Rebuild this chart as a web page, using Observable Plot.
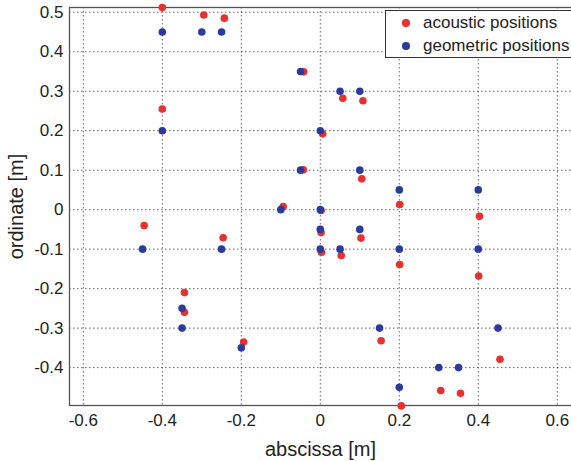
<!DOCTYPE html>
<html>
<head>
<meta charset="utf-8">
<script src="https://cdn.jsdelivr.net/npm/d3@7"></script>
<script src="https://cdn.jsdelivr.net/npm/@observablehq/plot@0.6"></script>
<style>
  body { margin: 0; background: #fff; font-family: "Liberation Sans", Arial, sans-serif; }
  #wrap { position: relative; width: 571px; height: 461px; overflow: hidden; }
  #legend { position: absolute; left: 385px; top: 10px; width: 220px; height: 46px;
            border: 1px solid #333; background: #fff; }
  .item { position: absolute; left: 0; height: 22px; width: 220px; }
  .item .dot { position: absolute; left: 16px; top: 7px; width: 7.5px; height: 7.5px; border-radius: 50%; }
  .item .lab { position: absolute; left: 37px; top: 0; font-size: 17px; line-height: 22px; color: #222; white-space: nowrap; }
  g[aria-label="x-axis label"] text, g[aria-label="y-axis label"] text { font-size: 20px; }
</style>
</head>
<body>
<div id="wrap">
  <div id="chart"></div>
  <div id="legend"></div>
</div>
<script>
// Series names and colours
const seriesNames = ["acoustic positions", "geometric positions"];
const seriesColors = ["#e8302c", "#2a3b9d"];

// Acoustic positions (red)
const acousticX = [-0.400, -0.295, -0.243, -0.400, -0.042, 0.057, 0.108, 0.006, -0.043, 0.105,
                   -0.094, 0.002, 0.103, 0.003, -0.246, 0.053, 0.201, 0.201, 0.403, 0.401,
                   -0.446, -0.344, -0.344, -0.194, 0.154, 0.455, 0.305, 0.355, 0.205, 0.002];
const acousticY = [0.512, 0.493, 0.485, 0.255, 0.349, 0.282, 0.276, 0.192, 0.101, 0.078,
                   0.008, -0.058, -0.072, -0.108, -0.071, -0.116, 0.013, -0.139, -0.017, -0.168,
                   -0.040, -0.210, -0.260, -0.335, -0.332, -0.379, -0.458, -0.465, -0.497, -0.002];

// Geometric positions (blue)
const geometricX = [-0.40, -0.30, -0.25, -0.40, -0.05, 0.05, 0.10, 0.00, -0.05, 0.10,
                    -0.10, 0.00, 0.10, 0.00, -0.25, 0.05, 0.20, 0.20, 0.40, 0.40,
                    -0.45, -0.35, -0.35, -0.20, 0.15, 0.45, 0.30, 0.35, 0.20, 0.00];
const geometricY = [0.45, 0.45, 0.45, 0.20, 0.35, 0.30, 0.30, 0.20, 0.10, 0.10,
                    0.00, -0.05, -0.05, -0.10, -0.10, -0.10, 0.05, -0.10, 0.05, -0.10,
                    -0.10, -0.25, -0.30, -0.35, -0.30, -0.30, -0.40, -0.40, -0.45, 0.00];

// Ticks
const xTicks = [-0.6, -0.4, -0.2, 0, 0.2, 0.4, 0.6];
const yTicks = [-0.4, -0.3, -0.2, -0.1, 0, 0.1, 0.2, 0.3, 0.4, 0.5];

const acoustic = acousticX.map((x, i) => ({x, y: acousticY[i]}));
const geometric = geometricX.map((x, i) => ({x, y: geometricY[i]}));

const gridStyle = {stroke: "#333", strokeOpacity: 0.75, strokeWidth: 1, strokeDasharray: "1.5,2.5"};

const chart = Plot.plot({
  width: 571,
  height: 461,
  marginLeft: 69,
  marginRight: 0,
  marginTop: 7,
  marginBottom: 56,
  style: {fontFamily: "'Liberation Sans', Arial, sans-serif", fontSize: "17px", color: "#222", background: "#fff"},
  x: {domain: [-0.635, 0.636]},
  y: {domain: [-0.496, 0.512]},
  marks: [
    Plot.gridX(xTicks, gridStyle),
    Plot.gridY(yTicks, gridStyle),
    Plot.frame({stroke: "#555", strokeWidth: 1.3, insetRight: -4}),
    Plot.axisX(xTicks, {tickSize: 0, tickPadding: 8, fontSize: 17, tickFormat: d => String(d),
      label: "abscissa [m]", labelAnchor: "center", labelArrow: "none", labelOffset: 50}),
    Plot.axisY(yTicks, {tickSize: 0, tickPadding: 6, fontSize: 17, tickFormat: d => String(d),
      label: "ordinate [m]", labelAnchor: "center", labelArrow: "none", labelOffset: 61}),
    Plot.dot(acoustic, {x: "x", y: "y", r: 3.8, fill: seriesColors[0], stroke: "none"}),
    Plot.dot(geometric, {x: "x", y: "y", r: 3.8, fill: seriesColors[1], stroke: "none"})
  ]
});
document.getElementById("chart").appendChild(chart);

const legend = document.getElementById("legend");
seriesNames.forEach((name, i) => {
  const item = document.createElement("div");
  item.className = "item";
  item.style.top = (1 + i * 23) + "px";
  item.innerHTML = `<span class="dot" style="background:${seriesColors[i]}"></span><span class="lab">${name}</span>`;
  legend.appendChild(item);
});
</script>
</body>
</html>
